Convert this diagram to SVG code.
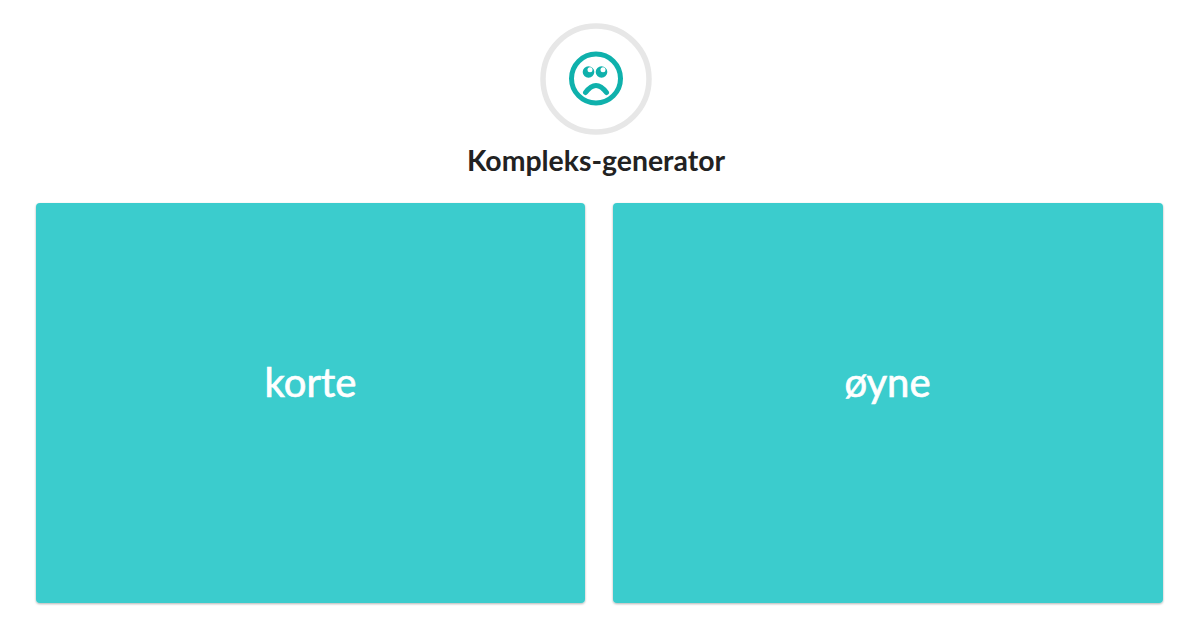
<svg xmlns="http://www.w3.org/2000/svg" width="1200" height="628" viewBox="0 0 1200 628">
<defs><filter id="s" x="-2%" y="-2%" width="104%" height="104%"><feDropShadow dx="0" dy="1" stdDeviation="1" flood-color="#000" flood-opacity="0.3"/></filter></defs>
<style>
.card{fill:#3bcccd;filter:url(#s)}
.lbl{font-family:Lato,"Liberation Sans",sans-serif;font-size:40px;fill:#fff;stroke:#fff;stroke-width:0.7px;text-anchor:middle}
.ic{fill:none;stroke:#0fb1ac}
.eye{fill:#0fb1ac}
</style>
<rect width="1200" height="628" fill="#fff"/>
<g id="icon">
<circle cx="596" cy="79" r="53" fill="#fff" stroke="#e7e7e7" stroke-width="5.500"/>
<circle class="ic" cx="596" cy="78.500" r="24.500" stroke-width="5"/>
<circle class="eye" cx="588.500" cy="72" r="5.800"/>
<circle class="eye" cx="601.500" cy="72" r="5.800"/>
<circle cx="590" cy="69.800" r="2.500" fill="#fff"/>
<circle cx="603" cy="69.800" r="2.500" fill="#fff"/>
<path class="ic" d="M585.500 92.500Q596 78.500 606.500 92.500" stroke-width="5" stroke-linecap="round"/>
</g>
<text id="title" x="596" y="171" font-family="Lato,'Liberation Sans',sans-serif" font-size="28.400" font-weight="700" fill="#222" text-anchor="middle">Kompleks-generator</text>
<g id="card-left"><rect class="card" x="36" y="203" width="549" height="400" rx="4"/><text class="lbl" x="310.500" y="397">korte</text></g>
<g id="card-right"><rect class="card" x="613" y="203" width="550" height="400" rx="4"/><text class="lbl" x="887.500" y="397">øyne</text></g>
</svg>
